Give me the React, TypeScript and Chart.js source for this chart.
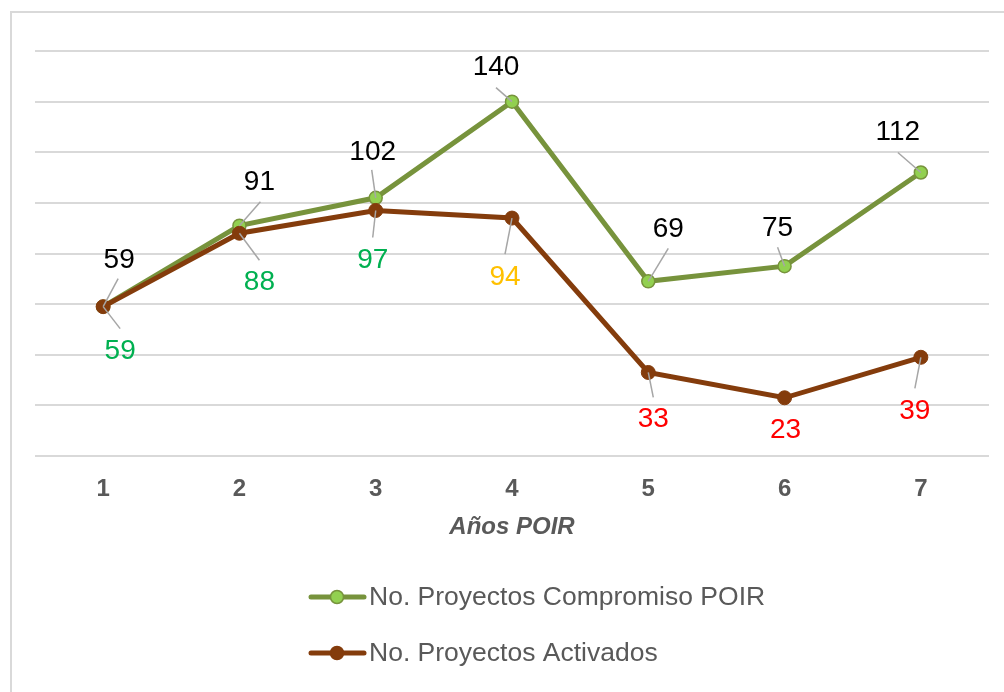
import React, { useEffect, useRef } from "react";
import { Chart, registerables } from "chart.js";

Chart.register(...registerables);

const categories = ["1", "2", "3", "4", "5", "6", "7"];
const compromisoValues = [59, 91, 102, 140, 69, 75, 112];
const activadosValues = [59, 88, 97, 94, 33, 23, 39];
const seriesNames = ["No. Proyectos Compromiso POIR", "No. Proyectos Activados"];
const axisTitle = "Años POIR";

// label styling (placement relative to each point: [labelDx, labelDy, leaderDx, leaderDy])
const compromisoLabelPlacement = [
  [16, -47, 15, -28],
  [20, -44, 21, -24],
  [-3, -47, -4, -28],
  [-16, -35, -16, -14],
  [20, -53, 20, -33],
  [-7, -39, -7, -19],
  [-23, -41, -23, -20],
];
const activadosLabelPlacement = [
  [17, 44, 17, 22],
  [20, 48, 20, 27],
  [-3, 49, -3, 27],
  [-7, 58, -7, 36],
  [5, 46, 5, 25],
  [1, 31, 0, 0],
  [-6, 53, -6, 31],
];
const compromisoLabelColors = ["#000000", "#000000", "#000000", "#000000", "#000000", "#000000", "#000000"];
const activadosLabelColors = ["#00B050", "#00B050", "#00B050", "#FFC000", "#FF0000", "#FF0000", "#FF0000"];

const FONT = "'Liberation Sans', Arial, sans-serif";
const GREEN_LINE = "#77933C";
const GREEN_FILL = "#92D050";
const BROWN = "#843C0C";

const labelsPlugin = {
  id: "customLabels",
  afterDatasetsDraw(chart: any) {
    const ctx = chart.ctx;
    const sets = [
      { idx: 0, place: compromisoLabelPlacement, colors: compromisoLabelColors, values: compromisoValues },
      { idx: 1, place: activadosLabelPlacement, colors: activadosLabelColors, values: activadosValues },
    ];
    ctx.save();
    for (const s of sets) {
      const meta = chart.getDatasetMeta(s.idx);
      meta.data.forEach((pt: any, i: number) => {
        const [dx, dy, lx, ly] = s.place[i];
        if (lx !== 0 || ly !== 0) {
          ctx.beginPath();
          ctx.strokeStyle = "#A6A6A6";
          ctx.lineWidth = 1.5;
          ctx.moveTo(pt.x, pt.y);
          ctx.lineTo(pt.x + lx, pt.y + ly);
          ctx.stroke();
        }
        ctx.fillStyle = s.colors[i];
        ctx.font = `28px ${FONT}`;
        ctx.textAlign = "center";
        ctx.textBaseline = "middle";
        ctx.fillText(String(s.values[i]), pt.x + dx, pt.y + dy + 1);
      });
    }
    ctx.restore();
  },
  afterDraw(chart: any) {
    const ctx = chart.ctx;
    ctx.save();
    const items = [
      { name: seriesNames[0], line: GREEN_LINE, fill: GREEN_FILL, border: GREEN_LINE, y: 597 },
      { name: seriesNames[1], line: BROWN, fill: BROWN, border: BROWN, y: 653 },
    ];
    for (const it of items) {
      ctx.beginPath();
      ctx.strokeStyle = it.line;
      ctx.lineWidth = 5;
      ctx.lineCap = "round";
      ctx.moveTo(311, it.y);
      ctx.lineTo(364, it.y);
      ctx.stroke();
      ctx.beginPath();
      ctx.fillStyle = it.fill;
      ctx.strokeStyle = it.border;
      ctx.lineWidth = 1.5;
      ctx.arc(337, it.y, 6.5, 0, Math.PI * 2);
      ctx.fill();
      ctx.stroke();
      ctx.fillStyle = "#595959";
      ctx.font = `26.5px ${FONT}`;
      ctx.textAlign = "left";
      ctx.textBaseline = "middle";
      ctx.fillText(it.name, 369, it.y + 1);
    }
    ctx.restore();
  },
};

export default function App() {
  const ref = useRef<HTMLCanvasElement | null>(null);
  useEffect(() => {
    document.body.style.margin = "0";
    document.body.style.overflow = "hidden";
    if (!ref.current) return;
    const chart = new Chart(ref.current, {
      type: "line",
      data: {
        labels: categories,
        datasets: [
          {
            label: seriesNames[0],
            data: compromisoValues,
            borderColor: GREEN_LINE,
            backgroundColor: GREEN_FILL,
            pointBackgroundColor: GREEN_FILL,
            pointBorderColor: GREEN_LINE,
            pointBorderWidth: 1.5,
            pointRadius: 6.5,
            borderWidth: 5,
            tension: 0,
            order: 1,
          },
          {
            label: seriesNames[1],
            data: activadosValues,
            borderColor: BROWN,
            backgroundColor: BROWN,
            pointBackgroundColor: BROWN,
            pointBorderColor: BROWN,
            pointBorderWidth: 1,
            pointRadius: 7,
            borderWidth: 5,
            tension: 0,
            order: 0,
          },
        ],
      },
      options: {
        animation: false,
        responsive: false,
        maintainAspectRatio: false,
        layout: { padding: { left: 35, right: 15, top: 51, bottom: 150.4 } },
        plugins: {
          legend: { display: false },
          tooltip: { enabled: false },
          title: { display: false },
        },
        scales: {
          x: {
            offset: true,
            grid: { display: false, drawTicks: false },
            border: { display: false },
            ticks: {
              padding: 19,
              color: "#595959",
              font: { family: FONT, size: 24, weight: "bold" },
            },
            title: {
              display: true,
              text: axisTitle,
              color: "#595959",
              padding: { top: -10, bottom: 0 },
              font: { family: FONT, size: 24, weight: "bold", style: "italic" },
            },
          },
          y: {
            min: 0,
            max: 160,
            ticks: { display: false, stepSize: 20 },
            grid: { color: "#D9D9D9", lineWidth: 2, drawTicks: false },
            border: { display: false },
          },
        },
      },
      plugins: [labelsPlugin],
    });
    return () => chart.destroy();
  }, []);
  return (
    <div style={{ position: "fixed", left: 0, top: 0, width: 1004, height: 692, overflow: "hidden", background: "#fff" }}>
      <canvas ref={ref} width={1004} height={692} style={{ position: "absolute", left: 0, top: 0 }} />
      <div
        style={{
          position: "absolute",
          left: 10,
          top: 11,
          width: 1200,
          height: 900,
          border: "2px solid #D9D9D9",
          pointerEvents: "none",
        }}
      />
    </div>
  );
}
